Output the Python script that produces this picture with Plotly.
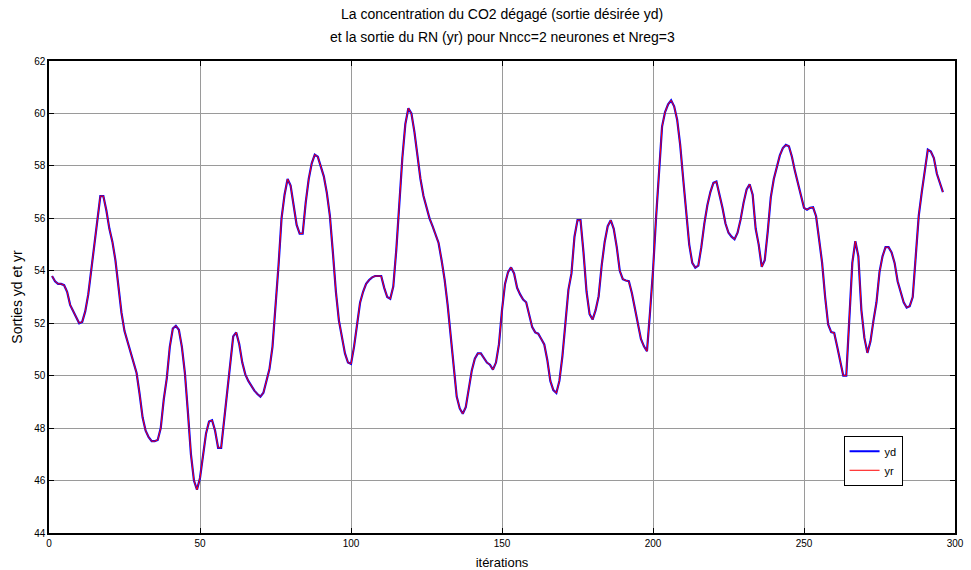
import plotly.graph_objects as go

# Iteration index of each sample
iterations = list(range(1, 297))

# Desired output yd: CO2 concentration released
yd = [
    53.8, 53.6, 53.5, 53.5, 53.45, 53.2, 52.7, 52.45, 52.25, 52.0,
    52.05, 52.45, 53.1, 54.1, 54.9, 56.0, 56.85, 56.85, 56.3, 55.6,
    55.1, 54.4, 53.3, 52.4, 51.7, 51.3, 50.95, 50.6, 50.1, 49.3,
    48.4, 47.9, 47.65, 47.5, 47.5, 47.55, 48.0, 49.1, 49.9, 51.1,
    51.8, 51.9, 51.75, 51.1, 50.1, 48.6, 47.0, 46.0, 45.65, 46.1,
    46.9, 47.8, 48.25, 48.3, 47.9, 47.25, 47.25, 48.3, 49.6, 50.5,
    51.5, 51.65, 51.2, 50.5, 50.05, 49.8, 49.6, 49.43, 49.3, 49.2,
    49.35, 49.75, 50.25, 51.1, 52.5, 54.2, 56.0, 56.9, 57.5, 57.25,
    56.5, 55.75, 55.42, 55.42, 56.6, 57.5, 58.1, 58.43, 58.35, 58.0,
    57.6, 56.97, 56.1, 54.7, 53.2, 52.1, 51.4, 50.85, 50.5, 50.45,
    51.1, 52.0, 52.78, 53.2, 53.5, 53.65, 53.75, 53.8, 53.8, 53.8,
    53.35, 53.0, 52.93, 53.4, 54.8, 56.6, 58.3, 59.6, 60.2, 60.0,
    59.3, 58.4, 57.5, 56.85, 56.4, 56.0, 55.7, 55.4, 55.06, 54.4,
    53.66, 52.7, 51.5, 50.3, 49.2, 48.75, 48.55, 48.8, 49.5, 50.2,
    50.65, 50.85, 50.85, 50.68, 50.5, 50.42, 50.23, 50.5, 51.2, 52.5,
    53.5, 53.95, 54.13, 53.9, 53.35, 53.1, 52.9, 52.8, 52.27, 51.85,
    51.65, 51.6, 51.4, 51.19, 50.6, 49.8, 49.45, 49.34, 49.8, 50.74,
    52.0, 53.28, 53.9, 55.3, 55.93, 55.93, 54.68, 53.2, 52.35, 52.14,
    52.5, 53.03, 54.2, 55.1, 55.7, 55.93, 55.6, 54.9, 54.0, 53.68,
    53.63, 53.6, 53.15, 52.55, 51.95, 51.4, 51.12, 50.93, 52.4, 54.0,
    56.0, 57.8, 59.5, 60.05, 60.35, 60.5, 60.27, 59.76, 58.8, 57.5,
    56.2, 55.0, 54.3, 54.12, 54.2, 54.9, 55.8, 56.5, 57.0, 57.35,
    57.4, 56.95, 56.4, 55.8, 55.45, 55.3, 55.2, 55.45, 55.95, 56.6,
    57.1, 57.3, 56.9, 55.6, 55.0, 54.15, 54.4, 55.5, 56.8, 57.5,
    57.9, 58.4, 58.68, 58.8, 58.75, 58.35, 57.8, 57.3, 56.8, 56.4,
    56.33, 56.4, 56.42, 56.08, 55.2, 54.3, 53.0, 51.95, 51.66, 51.63,
    51.1, 50.6, 50.0, 50.0, 52.0, 54.3, 55.13, 54.55, 52.5, 51.44,
    50.87, 51.3, 52.1, 52.8, 53.95, 54.55, 54.9, 54.9, 54.7, 54.3,
    53.6, 53.22, 52.8, 52.6, 52.65, 53.0, 54.43, 56.1, 57.0, 57.9,
    58.62, 58.55, 58.3, 57.7, 57.3, 57.0,
]

# Network output yr: follows the target to within the line width
yr = list(yd)

x_ticks = [0, 50, 100, 150, 200, 250, 300]
y_ticks = [44, 46, 48, 50, 52, 54, 56, 58, 60, 62]

title_lines = [
    "La concentration du CO2 dégagé (sortie désirée yd)",
    "et la sortie du RN (yr) pour Nncc=2 neurones et Nreg=3",
]

FONT = "Liberation Sans, Arial, sans-serif"
W, H = 971, 570
M_L, M_R, M_T, M_B = 49, 16, 61, 37
plot_h = H - M_T - M_B

fig = go.Figure()
fig.add_trace(go.Scatter(
    x=iterations, y=yd, mode="lines", name="yd",
    line=dict(color="#0000ff", width=2.2),
))
fig.add_trace(go.Scatter(
    x=iterations, y=yr, mode="lines", name="yr",
    line=dict(color="#ff0000", width=1),
))

axis_common = dict(
    showline=True, linecolor="black", linewidth=1.5, mirror="ticks",
    ticks="inside", ticklen=5, tickcolor="black", tickwidth=1,
    showgrid=True, gridcolor="#9a9a9a", gridwidth=1,
    zeroline=False, automargin=False,
    tickfont=dict(family=FONT, size=10, color="black"),
)

# Two-line heading, each line placed above the plot area
for i, line in enumerate(title_lines):
    y_px = 14 + 23 * i
    fig.add_annotation(
        text=line, xref="paper", yref="paper",
        x=0.5, y=1 + (M_T - y_px) / plot_h,
        xanchor="center", yanchor="middle", showarrow=False,
        font=dict(family=FONT, size=14, color="black"),
    )

fig.update_layout(
    width=W, height=H,
    margin=dict(l=M_L, r=M_R, t=M_T, b=M_B),
    paper_bgcolor="white", plot_bgcolor="white",
    font=dict(family=FONT, color="black"),
    xaxis=dict(
        range=[0, 300], tickvals=x_ticks,
        title=dict(text="itérations", font=dict(family=FONT, size=13), standoff=10),
        **axis_common,
    ),
    yaxis=dict(
        range=[44, 62], tickvals=y_ticks,
        title=dict(text="Sorties yd et yr", font=dict(family=FONT, size=14), standoff=8),
        **axis_common,
    ),
    legend=dict(
        x=0.877, y=0.206, xanchor="left", yanchor="top",
        bgcolor="white", bordercolor="black", borderwidth=1,
        font=dict(family=FONT, size=11, color="black"),
        tracegroupgap=0, itemwidth=30,
    ),
    showlegend=True,
)

fig.write_html("out.html")
